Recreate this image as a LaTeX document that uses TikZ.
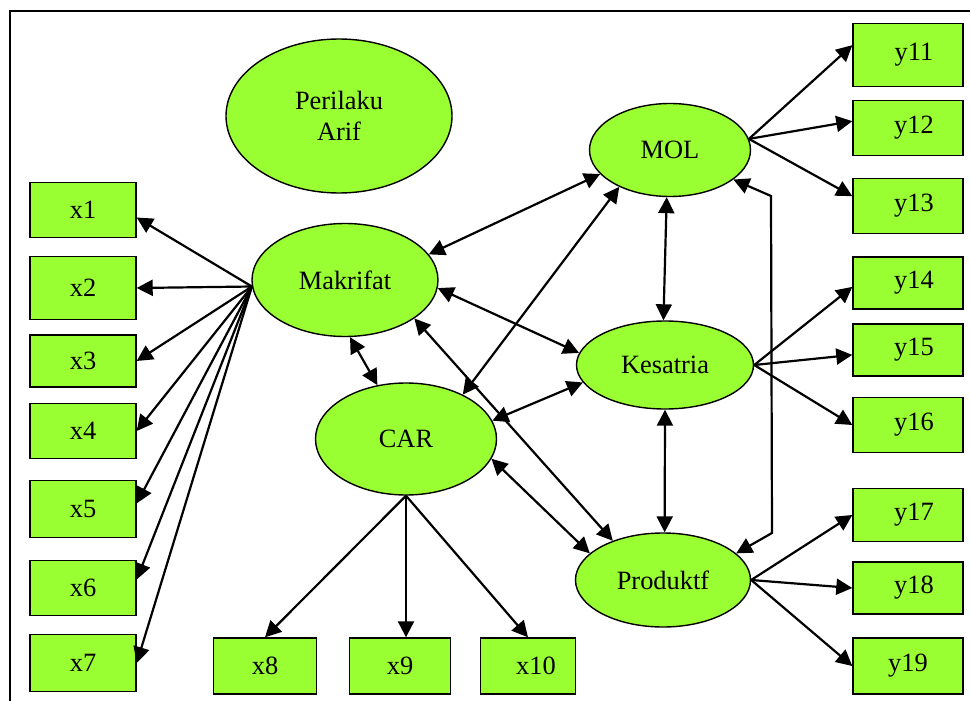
\documentclass[tikz,border=0pt]{standalone}
\usepackage{fontspec}
\setmainfont{Liberation Serif}
\usetikzlibrary{positioning,arrows.meta,shapes.geometric}
\definecolor{latgreen}{RGB}{153,255,51}
\tikzset{
  obs/.style  ={draw, rectangle, fill=latgreen, line width=0.7pt, minimum width=53pt, minimum height=27.5pt, inner sep=0pt},
  lat/.style  ={draw, ellipse, fill=latgreen, line width=0.7pt, align=center, inner sep=0pt},
  arr/.style  ={-{Triangle[length=8pt,width=8pt]}, line width=1.1pt},
  darr/.style ={{Triangle[length=8pt,width=8pt]}-{Triangle[length=8pt,width=8pt]}, line width=1.1pt},
}

\begin{document}
\begin{tikzpicture}[x=0.5pt, y=-0.5pt, font=\fontsize{13.2pt}{15.5pt}\selectfont]
  \useasboundingbox (0,0) rectangle (970,701);
  % frame, cut off at the right and bottom
  \draw[line width=0.75pt] (970,11) -- (10,11) -- (10,701);

  % latent variables
  \node[lat, minimum width=113pt,  minimum height=77pt]   (arif) at (339,116) {Perilaku\\Arif};
  \node[lat, minimum width=93pt,   minimum height=56.5pt] (mak)  at (345,280) {Makrifat};
  \node[lat, minimum width=80.5pt, minimum height=46.5pt] (mol)  at (670,150) {MOL};
  \node[lat, minimum width=88.5pt, minimum height=44pt]   (kes)  at (665,365) {Kesatria};
  \node[lat, minimum width=90.5pt, minimum height=56pt]   (car)  at (406,439) {CAR};
  \node[lat, minimum width=87.5pt, minimum height=47pt]   (prod) at (663,580) {Produktf};

  % indicators, left column
  \node[obs]                       (x1) at (83,210) {x1};
  \node[obs, minimum height=31.5pt] (x2) at (83,288) {x2};
  \node[obs, minimum height=26pt]   (x3) at (83,361) {x3};
  \node[obs]                       (x4) at (83,431) {x4};
  \node[obs, minimum height=28.5pt] (x5) at (83,509) {x5};
  \node[obs]                       (x6) at (83,588) {x6};
  \node[obs, minimum height=28.5pt] (x7) at (83,663) {x7};

  % indicators, bottom row
  \node[obs, minimum width=51.5pt, minimum height=28pt] (x8)  at (265,666) {x8};
  \node[obs, minimum width=50.5pt, minimum height=28pt] (x9)  at (400,666) {x9};
  \node[obs, minimum width=47.5pt, minimum height=28pt] (x10) at (528,666) {\hspace{8pt}x10};

  % indicators, right column
  \node[obs, minimum width=55pt, minimum height=31.5pt] (y11) at (908,55)  {\hspace{6pt}y11};
  \node[obs, minimum width=55pt]                        (y12) at (908,128) {\hspace{6pt}y12};
  \node[obs, minimum width=55pt]                        (y13) at (908,206) {\hspace{6pt}y13};
  \node[obs, minimum width=55pt, minimum height=26pt]   (y14) at (908,283) {\hspace{6pt}y14};
  \node[obs, minimum width=55pt, minimum height=26pt]   (y15) at (908,350) {\hspace{6pt}y15};
  \node[obs, minimum width=55pt]                        (y16) at (908,425) {\hspace{6pt}y16};
  \node[obs, minimum width=55pt, minimum height=26.5pt] (y17) at (908,515) {\hspace{6pt}y17};
  \node[obs, minimum width=55pt, minimum height=26pt]   (y18) at (908,588) {\hspace{6pt}y18};
  \node[obs, minimum width=55pt, minimum height=28pt]   (y19) at (908,666) {y19};

  % loadings
  \draw[arr] (mak.184) -- (x1.-8);
  \draw[arr] (mak.184) -- (x2.east);
  \draw[arr] (mak.184) -- (x3.east);
  \draw[arr] (mak.184) -- (x4.east);
  \draw[arr] (mak.184) -- (x5.6);
  \draw[arr] (mak.184) -- (x6.9);
  \draw[arr] (mak.184) -- (x7.east);

  \draw[arr] (car.south) -- (x8.north);
  \draw[arr] (car.south) -- (car.south |- x9.north);
  \draw[arr] (car.south) -- (x10.north);

  \draw[arr] (mol.8) -- (y11.170);
  \draw[arr] (mol.8) -- (y12.173);
  \draw[arr] (mol.8) -- (y13.170);
  \draw[arr] (kes.east) -- (y14.184);
  \draw[arr] (kes.east) -- (y15.185);
  \draw[arr] (kes.east) -- (y16.west);
  \draw[arr] (prod.east) -- (y17.west);
  \draw[arr] (prod.east) -- (y18.west);
  \draw[arr] (prod.east) -- (y19.west);

  % correlations
  \draw[darr] (mak.17)  -- (mol.199);
  \draw[darr] (mak.-5)  -- (kes.172);
  \draw[darr] (mak.-29) -- (prod.142);
  \draw[darr] (mak.-85) -- (car.118);
  \draw[darr] (car.38)  -- (mol.216);
  \draw[darr] (car.12)  -- (kes.192);
  \draw[darr] (car.-13) -- (prod.160);
  \draw[darr] (mol.266) -- (kes.92);
  \draw[darr] (kes.-90) -- (prod.88);

  \coordinate (bendtop) at (771,196);
  \coordinate (bendbot) at (772,533);
  \draw[darr] (mol.-25) -- (bendtop) -- (bendbot) -- (prod.20);
\end{tikzpicture}
\end{document}
